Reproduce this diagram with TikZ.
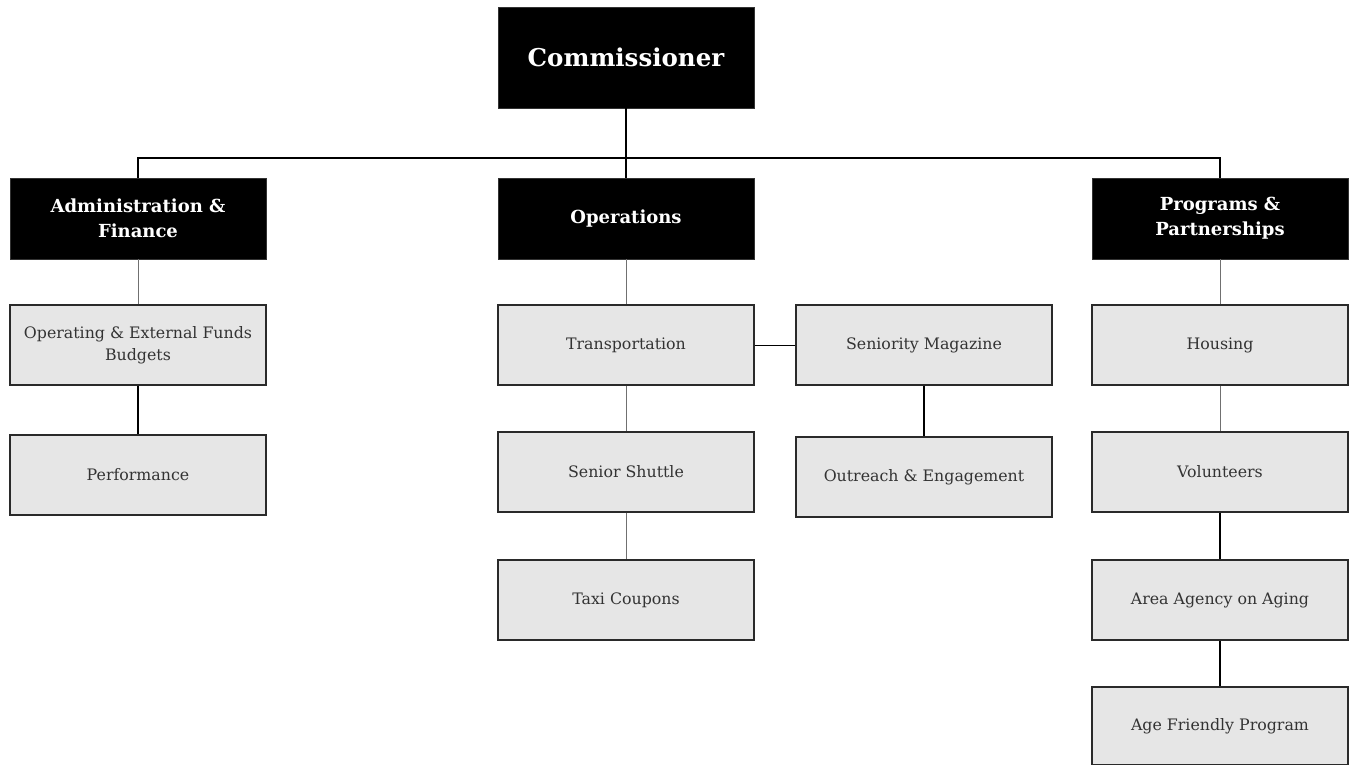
\documentclass[tikz,border=0pt]{standalone}
\usepackage{fontspec}
\setmainfont{DejaVu Serif}
\definecolor{boxfill}{HTML}{E6E6E6}
\definecolor{boxline}{HTML}{2A2A2A}
\definecolor{thinline}{HTML}{707070}
\definecolor{txt}{HTML}{333333}
\tikzset{
  px/.style={x=1pt,y=-1pt},
  head/.style={fill=black, draw=black!80, text=white, minimum width=256pt, minimum height=81pt, inner sep=2pt, align=center, font=\fontsize{18}{25}\selectfont\bfseries},
  top/.style={head, minimum height=101pt, font=\fontsize{24.5}{28}\selectfont\bfseries},
  unit/.style={fill=boxfill, draw=boxline, line width=1.3pt, minimum width=256pt, minimum height=80pt, inner sep=2pt, align=center, text=txt, font=\fontsize{15.8}{21.5}\selectfont},
  thin/.style={draw=thinline, line width=0.9pt},
  thick/.style={draw=black, line width=1.5pt},
  bus/.style={draw=black, line width=1.4pt}
}
\begin{document}
\begin{tikzpicture}[px]
\useasboundingbox (0,0) rectangle (1354,765);
\node[top] (com) at (626,57.5) {Commissioner};
\node[head] (adm) at (138,218.5) {Administration \&\\Finance};
\node[head] (ops) at (626,218.5) {Operations};
\node[head] (prg) at (1220,218.5) {Programs \&\\Partnerships};
\node[unit] (bud) at (138,345) {Operating \& External Funds\\Budgets};
\node[unit] (per) at (138,475) {Performance};
\node[unit] (tra) at (626,345) {Transportation};
\node[unit] (sen) at (924,345) {Seniority Magazine};
\node[unit] (shu) at (626,472) {Senior Shuttle};
\node[unit] (out) at (924,477) {Outreach \& Engagement};
\node[unit] (tax) at (626,600) {Taxi Coupons};
\node[unit] (hou) at (1220,345) {Housing};
\node[unit] (vol) at (1220,472) {Volunteers};
\node[unit] (aaa) at (1220,600) {Area Agency on Aging};
\node[unit, minimum height=78pt] (afp) at (1220,726) {Age Friendly Program};
\coordinate (bl) at (138,158);
\coordinate (br) at (1220,158);
\draw[bus] (com.south) -- (ops.north);
\draw[bus] (adm.north) -- (bl) -- (br) -- (prg.north);
\draw[thin] (adm.south) -- (bud.north);
\draw[thick] (bud.south) -- (per.north);
\draw[thin] (ops.south) -- (tra.north);
\draw[thin,draw=black] (tra.east) -- (sen.west);
\draw[thin] (tra.south) -- (shu.north);
\draw[thin] (shu.south) -- (tax.north);
\draw[thick] (sen.south) -- (out.north);
\draw[thin] (prg.south) -- (hou.north);
\draw[thin] (hou.south) -- (vol.north);
\draw[thick] (vol.south) -- (aaa.north);
\draw[thick] (aaa.south) -- (afp.north);
\end{tikzpicture}
\end{document}
